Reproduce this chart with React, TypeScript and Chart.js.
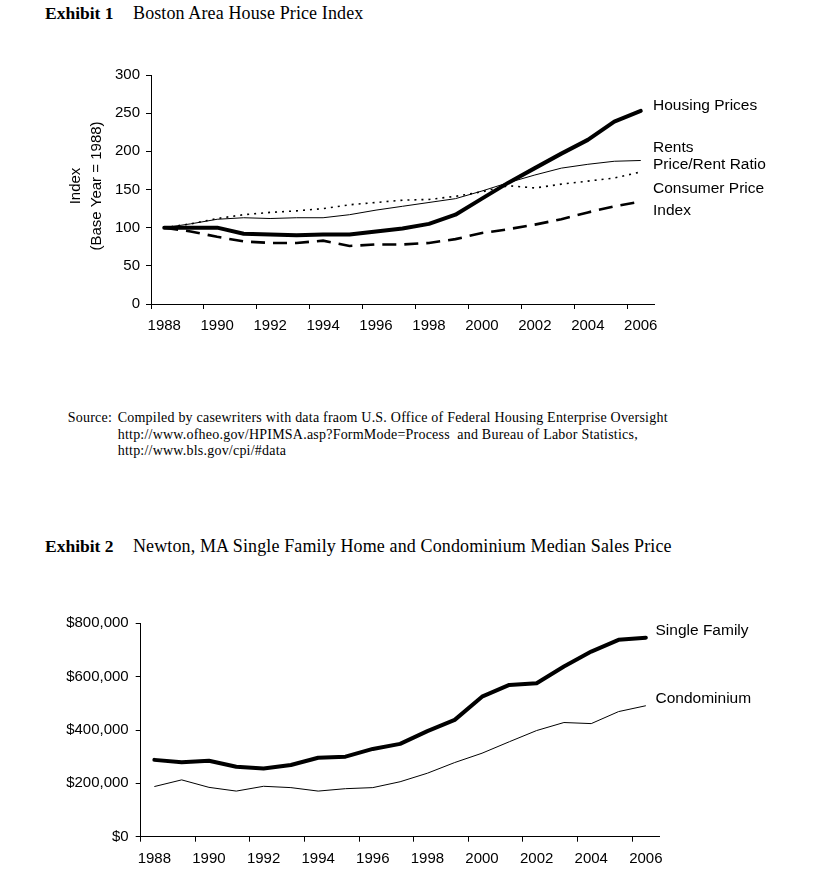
import React, { useEffect, useRef } from 'react';
import { Chart, registerables } from 'chart.js';

Chart.register(...registerables);

const years = ['1988','1989','1990','1991','1992','1993','1994','1995','1996','1997','1998','1999','2000','2001','2002','2003','2004','2005','2006'];
const housingPrices = [100, 100, 100, 92, 91, 90, 91, 91, 95, 99, 105, 117, 138, 159, 178, 197, 215, 239, 253];
const rents = [100, 105, 111, 113, 112, 113, 113, 117, 123, 128, 133, 138, 148, 159, 169, 178, 183, 187, 188];
const consumerPriceIndex = [100, 105, 112, 117, 120, 122, 125, 130, 133, 136, 137, 141, 147, 155, 152, 157, 161, 165, 173];
const priceRentRatio = [100, 95, 88, 82, 80, 80, 83, 76, 78, 78, 80, 85, 93, 98, 104, 111, 120, 128, 134];
const indexTicks = [0, 50, 100, 150, 200, 250, 300];

const singleFamily = [288000, 279000, 285000, 262000, 256000, 269000, 296000, 300000, 329000, 348000, 396000, 438000, 525000, 569000, 575000, 638000, 694000, 738000, 746000];
const condominium = [188000, 213000, 185000, 171000, 189000, 184000, 171000, 180000, 184000, 206000, 238000, 278000, 313000, 356000, 398000, 428000, 424000, 469000, 491000];
const priceTicks = [0, 200000, 400000, 600000, 800000];

const SANS = "'Liberation Sans', Arial, sans-serif";
const SERIF = "'Liberation Serif', 'Times New Roman', serif";

type Label = { text: string; dx: number; y: number };

function labelPlugin(labels: Label[], yTitle?: { lines: { text: string; x: number }[]; y: number }) {
  return {
    id: 'labels',
    afterDraw(chart: any) {
      const ctx = chart.ctx;
      const a = chart.chartArea;
      ctx.save();
      ctx.fillStyle = '#000';
      ctx.font = `15.5px ${SANS}`;
      ctx.textAlign = 'left';
      ctx.textBaseline = 'alphabetic';
      labels.forEach((l) => ctx.fillText(l.text, a.right + l.dx, l.y));
      if (yTitle) {
        ctx.font = `15px ${SANS}`;
        ctx.textAlign = 'center';
        ctx.textBaseline = 'middle';
        yTitle.lines.forEach((ln) => {
          ctx.save();
          ctx.translate(ln.x, yTitle.y);
          ctx.rotate(-Math.PI / 2);
          ctx.fillText(ln.text, 0, 0);
          ctx.restore();
        });
      }
      ctx.restore();
    },
  };
}

function xAxis(height: number) {
  return {
    type: 'category' as const,
    offset: true,
    afterFit: (s: any) => { s.height = height; },
    grid: {
      offset: true,
      drawOnChartArea: false,
      drawTicks: true,
      tickLength: 5,
      color: (c: any) => (c.index % 2 === 0 ? '#000' : 'rgba(0,0,0,0)'),
    },
    border: { display: true, color: '#000', width: 1 },
    ticks: {
      autoSkip: false,
      maxRotation: 0,
      padding: 8,
      color: '#000',
      font: { family: SANS, size: 15 },
      callback: (_v: any, i: number) => (i % 2 === 0 ? years[i] : ''),
    },
  };
}

function yAxis(width: number, ticks: number[], padding: number, fmt: (v: number) => string) {
  return {
    min: ticks[0],
    max: ticks[ticks.length - 1],
    afterFit: (s: any) => { s.width = width; },
    afterBuildTicks: (s: any) => { s.ticks = ticks.map((v) => ({ value: v })); },
    grid: { drawOnChartArea: false, drawTicks: true, tickLength: 5, color: '#000' },
    border: { display: true, color: '#000', width: 1 },
    ticks: {
      padding,
      color: '#000',
      font: { family: SANS, size: 15 },
      callback: (v: any) => fmt(Number(v)),
    },
  };
}

function ChartOne() {
  const ref = useRef<HTMLCanvasElement>(null);
  useEffect(() => {
    const chart = new Chart(ref.current!, {
      type: 'line',
      data: {
        labels: years,
        datasets: [
          { label: 'Consumer Price Index', data: consumerPriceIndex, borderColor: '#000', borderWidth: 1.6, borderDash: [2, 5], pointRadius: 0, tension: 0 },
          { label: 'Price/Rent Ratio', data: priceRentRatio, borderColor: '#000', borderWidth: 2.6, borderDash: [14, 8], pointRadius: 0, tension: 0 },
          { label: 'Rents', data: rents, borderColor: '#000', borderWidth: 1, pointRadius: 0, tension: 0 },
          { label: 'Housing Prices', data: housingPrices, borderColor: '#000', borderWidth: 4, borderCapStyle: 'round', borderJoinStyle: 'round', pointRadius: 0, tension: 0 },
        ],
      },
      options: {
        responsive: false,
        animation: false,
        layout: { padding: { top: 15, right: 184, left: 0, bottom: 0 } },
        plugins: { legend: { display: false }, tooltip: { enabled: false } },
        scales: {
          x: xAxis(46),
          y: yAxis(151, indexTicks, 6, (v) => String(v)),
        },
      } as any,
      plugins: [labelPlugin(
        [
          { text: 'Housing Prices', dx: -1, y: 50 },
          { text: 'Rents', dx: -1, y: 91.7 },
          { text: 'Price/Rent Ratio', dx: -1, y: 109.3 },
          { text: 'Consumer Price', dx: -1, y: 133.3 },
          { text: 'Index', dx: -1, y: 155 },
        ],
        { lines: [{ text: 'Index', x: 76 }, { text: '(Base Year = 1988)', x: 97 }], y: 126 }
      )],
    });
    return () => chart.destroy();
  }, []);
  return <canvas ref={ref} width={838} height={290} style={{ position: 'absolute', left: 0, top: 60 }} />;
}

function ChartTwo() {
  const ref = useRef<HTMLCanvasElement>(null);
  useEffect(() => {
    const chart = new Chart(ref.current!, {
      type: 'line',
      data: {
        labels: years,
        datasets: [
          { label: 'Condominium', data: condominium, borderColor: '#000', borderWidth: 1, pointRadius: 0, tension: 0 },
          { label: 'Single Family', data: singleFamily, borderColor: '#000', borderWidth: 4, borderCapStyle: 'round', borderJoinStyle: 'round', pointRadius: 0, tension: 0 },
        ],
      },
      options: {
        responsive: false,
        animation: false,
        layout: { padding: { top: 23.3, right: 178.5, left: 0, bottom: 0 } },
        plugins: { legend: { display: false }, tooltip: { enabled: false } },
        scales: {
          x: xAxis(52.3),
          y: yAxis(140.7, priceTicks, 7, (v) => '$' + v.toLocaleString('en-US')),
        },
      } as any,
      plugins: [labelPlugin([
        { text: 'Single Family', dx: -4, y: 35 },
        { text: 'Condominium', dx: -4, y: 103.3 },
      ])],
    });
    return () => chart.destroy();
  }, []);
  return <canvas ref={ref} width={838} height={289} style={{ position: 'absolute', left: 0, top: 600 }} />;
}

const headStyle: React.CSSProperties = { position: 'absolute', fontFamily: SERIF, fontSize: 17.5, lineHeight: '20px', color: '#000', whiteSpace: 'nowrap', fontWeight: 'bold' };
const titleStyle: React.CSSProperties = { position: 'absolute', fontFamily: SERIF, fontSize: 18, lineHeight: '20px', color: '#000', whiteSpace: 'nowrap', letterSpacing: '0.12px' };
const sourceStyle: React.CSSProperties = { position: 'absolute', top: 410.3, fontFamily: SERIF, fontSize: 14, lineHeight: '16.5px', color: '#000', whiteSpace: 'nowrap', letterSpacing: '0.22px' };

export default function App() {
  return (
    <div style={{ position: 'absolute', left: 0, top: 0, width: 838, height: 889, background: '#fff', overflow: 'hidden' }}>
      <div style={{ ...headStyle, left: 45, top: 3.4 }}>Exhibit 1</div>
      <div style={{ ...titleStyle, left: 133, top: 3.2 }}>Boston Area House Price Index</div>
      <ChartOne />
      <div style={{ ...sourceStyle, left: 67.7 }}>Source:</div>
      <div style={{ ...sourceStyle, left: 117.7 }}>
        <div>Compiled by casewriters with data fraom U.S. Office of Federal Housing Enterprise Oversight</div>
        <div>http://www.ofheo.gov/HPIMSA.asp?FormMode=Process&nbsp; and Bureau of Labor Statistics,</div>
        <div>http://www.bls.gov/cpi/#data</div>
      </div>
      <div style={{ ...headStyle, left: 45, top: 535.8 }}>Exhibit 2</div>
      <div style={{ ...titleStyle, left: 133, top: 535.6 }}>Newton, MA Single Family Home and Condominium Median Sales Price</div>
      <ChartTwo />
    </div>
  );
}
